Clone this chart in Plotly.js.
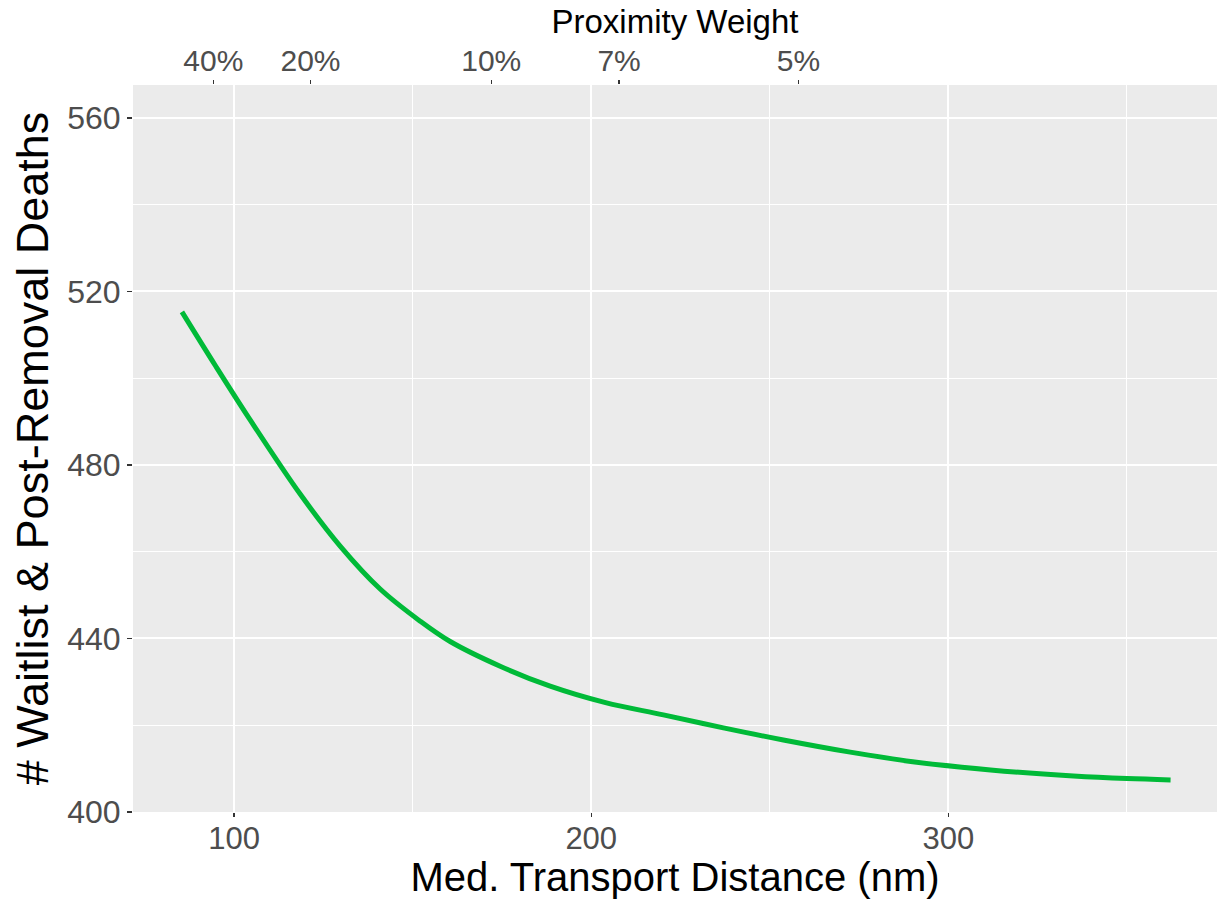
<!DOCTYPE html>
<html>
<head>
<meta charset="utf-8">
<script src="https://cdn.plot.ly/plotly-3.0.1.min.js"></script>
<style>
  html, body { margin: 0; padding: 0; background: #ffffff; }
  #chart { width: 1217px; height: 899px; }
</style>
</head>
<body>
<div id="chart"></div>
<script>
// Median transport distance (nm) and deaths
var distance = [85.4, 94.7, 104.5, 118.5, 129.7, 140.9, 152.1, 160.5, 174.5, 188.5, 204, 220.2, 237, 253.8, 272.5, 290, 311.8, 335, 350, 362.2];
var deaths   = [515.3, 503.0, 490.4, 473.3, 461.3, 451.4, 444.0, 439.3, 433.6, 429.0, 425.2, 422.4, 419.4, 416.6, 413.8, 411.6, 409.7, 408.3, 407.7, 407.4];

// Top axis: proximity weight labels at the matching distances
var weightTickPos    = [94.2, 121.4, 172.0, 207.8, 258.0];
var weightTickLabels = ["40%", "20%", "10%", "7%", "5%"];

var xTicks = [100, 200, 300];
var yTicks = [400, 440, 480, 520, 560];

var FONT = "Liberation Sans, Arial, sans-serif";

var traces = [
  {
    x: distance, y: deaths,
    type: "scatter", mode: "lines",
    line: {color: "#00BA38", width: 5, shape: "spline", smoothing: 1},
    hoverinfo: "x+y", showlegend: false,
    xaxis: "x", yaxis: "y"
  },
  {
    x: distance, y: deaths,
    type: "scatter", mode: "lines",
    line: {color: "rgba(0,0,0,0)", width: 0},
    hoverinfo: "skip", showlegend: false,
    xaxis: "x2", yaxis: "y"
  }
];

var layout = {
  width: 1217, height: 899,
  margin: {l: 133, r: 0, t: 85, b: 87},
  paper_bgcolor: "#ffffff",
  plot_bgcolor: "#EBEBEB",
  font: {family: FONT, color: "#4D4D4D"},
  showlegend: false,
  xaxis: {
    range: [71.7, 375.2],
    tickvals: xTicks,
    ticktext: xTicks.map(String),
    ticks: "outside", ticklen: 4, tickwidth: 1.2, tickcolor: "#333333",
    tickfont: {size: 31, color: "#4D4D4D", family: FONT},
    ticklabelstandoff: -5,
    showgrid: true, gridcolor: "#ffffff", gridwidth: 2,
    minor: {dtick: 50, tick0: 50, showgrid: true, gridcolor: "#ffffff", gridwidth: 1, ticks: ""},
    zeroline: false, showline: false,
    title: {text: "Med. Transport Distance (nm)", font: {size: 40, color: "#000000", family: FONT}, standoff: 4}
  },
  xaxis2: {
    overlaying: "x", side: "top", matches: "x",
    range: [71.7, 375.2],
    tickvals: weightTickPos,
    ticktext: weightTickLabels,
    ticks: "outside", ticklen: 4, tickwidth: 1.2, tickcolor: "#333333",
    tickfont: {size: 30, color: "#4D4D4D", family: FONT},
    ticklabelstandoff: -3,
    showgrid: false, zeroline: false, showline: false,
    title: {text: "Proximity Weight", font: {size: 33, color: "#000000", family: FONT}, standoff: 0}
  },
  yaxis: {
    range: [400, 567.6],
    tickvals: yTicks,
    ticktext: yTicks.map(String),
    ticks: "outside", ticklen: 5, tickwidth: 1.2, tickcolor: "#333333",
    tickfont: {size: 32, color: "#4D4D4D", family: FONT},
    showgrid: true, gridcolor: "#ffffff", gridwidth: 2,
    minor: {dtick: 40, tick0: 420, showgrid: true, gridcolor: "#ffffff", gridwidth: 1, ticks: ""},
    zeroline: false, showline: false,
    title: {text: "# Waitlist & Post-Removal Deaths", font: {size: 45, color: "#000000", family: FONT}, standoff: 4}
  }
};

Plotly.newPlot("chart", traces, layout, {displayModeBar: false, staticPlot: true});
</script>
</body>
</html>
